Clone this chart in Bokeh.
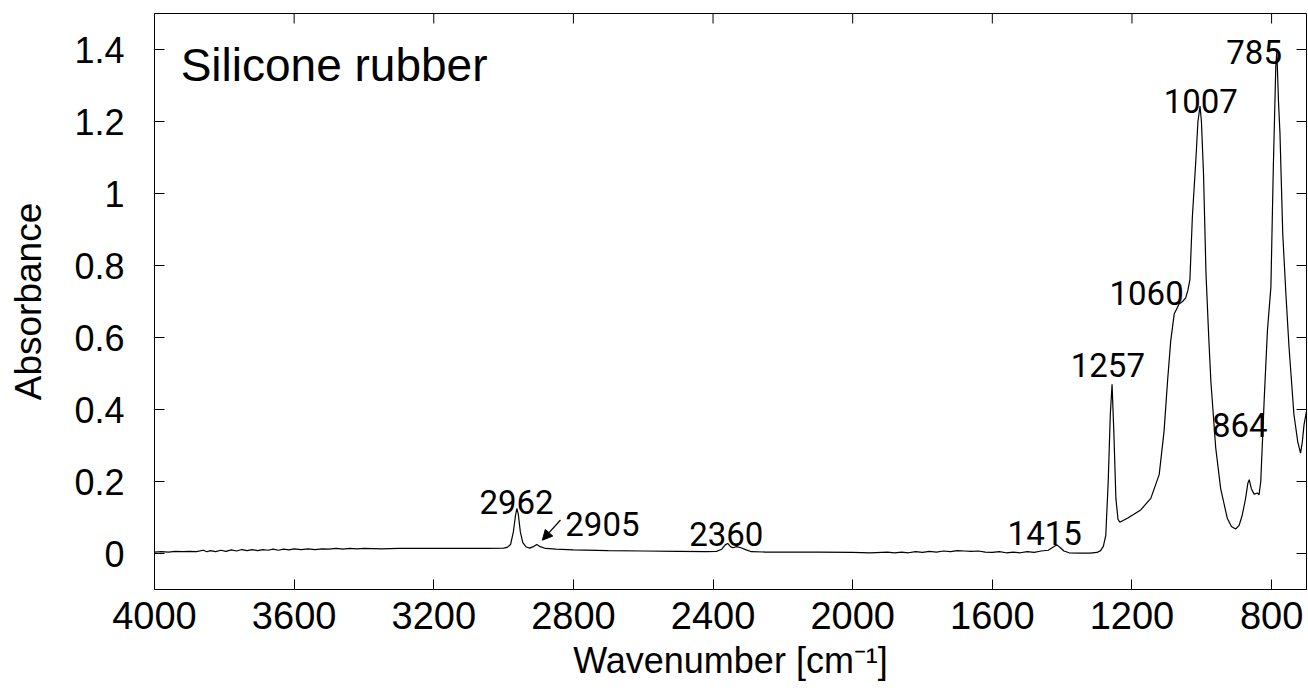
import math
from bokeh.plotting import figure
from bokeh.models import Range1d, FixedTicker, Arrow, NormalHead, ColumnDataSource
from bokeh.core.properties import value
from bokeh.embed import file_html
from bokeh.resources import INLINE

# ---------------- data ----------------
wavenumber = [
    4000, 3980, 3960, 3940, 3920, 3900, 3880, 3860, 3850, 3840, 3825, 3810, 3795, 3780, 3765,
    3750, 3735, 3720, 3705, 3690, 3675, 3660, 3645, 3630, 3615, 3600, 3580, 3560, 3540, 3520,
    3500, 3480, 3460, 3440, 3420, 3400, 3350, 3300, 3250, 3200, 3150, 3100, 3050, 3000, 2990,
    2980, 2972, 2966, 2962, 2958, 2952, 2945, 2935, 2925, 2915, 2905, 2895, 2880, 2850, 2800,
    2700, 2600, 2500, 2420, 2390, 2375, 2365, 2358, 2350, 2343, 2333, 2320, 2305, 2290, 2250,
    2200, 2100, 2000, 1950, 1900, 1880, 1860, 1840, 1820, 1800, 1780, 1760, 1740, 1720, 1700,
    1680, 1660, 1640, 1620, 1600, 1580, 1560, 1540, 1520, 1500, 1480, 1460, 1440, 1425, 1415,
    1405, 1395, 1380, 1350, 1320, 1300, 1290, 1282, 1275, 1268, 1262, 1257, 1252, 1246, 1240,
    1235, 1213, 1175, 1146, 1122, 1108, 1098, 1089, 1079, 1065, 1055, 1046, 1040, 1034, 1027,
    1017, 1011, 1005, 1001, 995, 988, 980, 974, 960, 946, 927, 915, 903, 893, 884,
    875, 868, 864, 858, 850, 840, 836, 831, 821, 812, 802, 795, 788, 785, 780,
    776, 768, 759, 750, 736, 725, 717, 712, 707, 700,
]
absorbance = [
    0.004, 0.005, 0.004, 0.006, 0.005, 0.006, 0.005, 0.009, 0.005, 0.008, 0.005, 0.009, 0.006, 0.010, 0.007,
    0.011, 0.008, 0.011, 0.008, 0.011, 0.009, 0.012, 0.009, 0.012, 0.010, 0.013, 0.011, 0.013, 0.011, 0.013,
    0.012, 0.014, 0.012, 0.014, 0.013, 0.014, 0.013, 0.014, 0.014, 0.014, 0.014, 0.014, 0.014, 0.015, 0.017,
    0.025, 0.060, 0.105, 0.125, 0.110, 0.060, 0.030, 0.018, 0.015, 0.019, 0.025, 0.019, 0.014, 0.012, 0.010,
    0.008, 0.007, 0.006, 0.005, 0.006, 0.012, 0.024, 0.028, 0.019, 0.016, 0.019, 0.016, 0.010, 0.005, 0.004,
    0.004, 0.004, 0.003, 0.002, 0.004, 0.002, 0.004, 0.002, 0.005, 0.003, 0.006, 0.004, 0.007, 0.005, 0.008,
    0.007, 0.006, 0.007, 0.004, 0.003, 0.005, 0.002, 0.004, 0.002, 0.005, 0.003, 0.007, 0.009, 0.018, 0.024,
    0.016, 0.007, 0.002, 0.001, 0.001, 0.003, 0.008, 0.020, 0.050, 0.200, 0.386, 0.470, 0.340, 0.153, 0.095,
    0.087, 0.098, 0.121, 0.153, 0.219, 0.340, 0.479, 0.590, 0.665, 0.693, 0.700, 0.710, 0.730, 0.760, 0.934,
    1.092, 1.200, 1.243, 1.200, 1.055, 0.780, 0.600, 0.479, 0.293, 0.181, 0.098, 0.075, 0.068, 0.078, 0.107,
    0.150, 0.195, 0.205, 0.180, 0.165, 0.168, 0.163, 0.200, 0.432, 0.618, 0.740, 1.074, 1.352, 1.394, 1.250,
    1.167, 0.888, 0.720, 0.572, 0.386, 0.310, 0.279, 0.310, 0.358, 0.395,
]

peak_labels = ["785", "1007", "1060", "1257", "864", "1415", "2962", "2905", "2360"]
peak_label_x = [850, 1003, 1158, 1269, 891, 1450, 2963, 2717, 2362]
peak_label_y = [1.394, 1.258, 0.725, 0.523, 0.356, 0.056, 0.142, 0.082, 0.054]

x_ticks = [4000, 3600, 3200, 2800, 2400, 2000, 1600, 1200, 800]
y_ticks = [0, 0.2, 0.4, 0.6, 0.8, 1.0, 1.2, 1.4]
y_tick_labels = {0: "0", 0.2: "0.2", 0.4: "0.4", 0.6: "0.6", 0.8: "0.8", 1.0: "1", 1.2: "1.2", 1.4: "1.4"}

X_START, X_END = 4000, 700
Y_START, Y_END = -0.1, 1.5

# ---------------- figure ----------------
FONT = "Liberation Sans"
p = figure(width=1308, height=692, output_backend="svg", toolbar_location=None,
           x_range=Range1d(X_START, X_END), y_range=Range1d(Y_START, Y_END),
           min_border_left=154, min_border_right=2, min_border_top=13, min_border_bottom=103)
p.xgrid.visible = False
p.ygrid.visible = False
p.outline_line_color = "black"
p.outline_line_alpha = 1.0
p.outline_line_width = 1
p.background_fill_color = "white"
p.border_fill_color = "white"

def style_axis(ax, ticks):
    ax.ticker = FixedTicker(ticks=ticks)
    ax.major_tick_in = 10
    ax.major_tick_out = 0
    ax.minor_tick_in = 0
    ax.minor_tick_out = 0
    ax.axis_line_color = "black"
    ax.major_tick_line_color = "black"
    ax.major_label_text_font = FONT
    ax.major_label_text_color = "black"
    ax.axis_label_text_font = FONT
    ax.axis_label_text_font_style = "normal"
    ax.axis_label_text_color = "black"

xa = p.xaxis[0]
style_axis(xa, x_ticks)
xa.major_label_text_font_size = "38px"
xa.major_label_standoff = 12
xa.axis_label = "Wavenumber [cm\u207b\u00b9]"
xa.axis_label_text_font_size = "36px"
xa.axis_label_standoff = 8

ya = p.yaxis[0]
style_axis(ya, y_ticks)
ya.major_label_overrides = y_tick_labels
ya.major_label_text_font_size = "36px"
ya.major_label_standoff = 30
ya.axis_label = "Absorbance"
ya.axis_label_text_font_size = "37px"
ya.axis_label_standoff = 22

# inside ticks on the top and right edges of the frame (mirroring the axis ticks)
p.ray(x=x_ticks, y=[Y_END] * len(x_ticks), length=10, length_units="screen",
      angle=-math.pi / 2, line_color="black", line_width=1)
p.ray(x=[X_END] * len(y_ticks), y=y_ticks, length=10, length_units="screen",
      angle=math.pi, line_color="black", line_width=1)

p.line(wavenumber, absorbance, line_color="black", line_width=1.2)

src = ColumnDataSource(dict(x=peak_label_x, y=peak_label_y, t=peak_labels))
p.text(x="x", y="y", text="t", source=src, text_font=value("Roboto"),
       text_font_size="33px", text_align="center", text_baseline="alphabetic", text_color="black")

p.text(x=[3925], y=[1.357], text=["Silicone rubber"], text_font=value(FONT),
       text_font_size="46px", text_align="left", text_baseline="alphabetic", text_color="black")

p.add_layout(Arrow(end=NormalHead(size=10, fill_color="black", line_color="black"),
                   x_start=2837, y_start=0.093, x_end=2889, y_end=0.037,
                   line_color="black", line_width=1.2))

open("out.html", "w").write(file_html(p, INLINE))
